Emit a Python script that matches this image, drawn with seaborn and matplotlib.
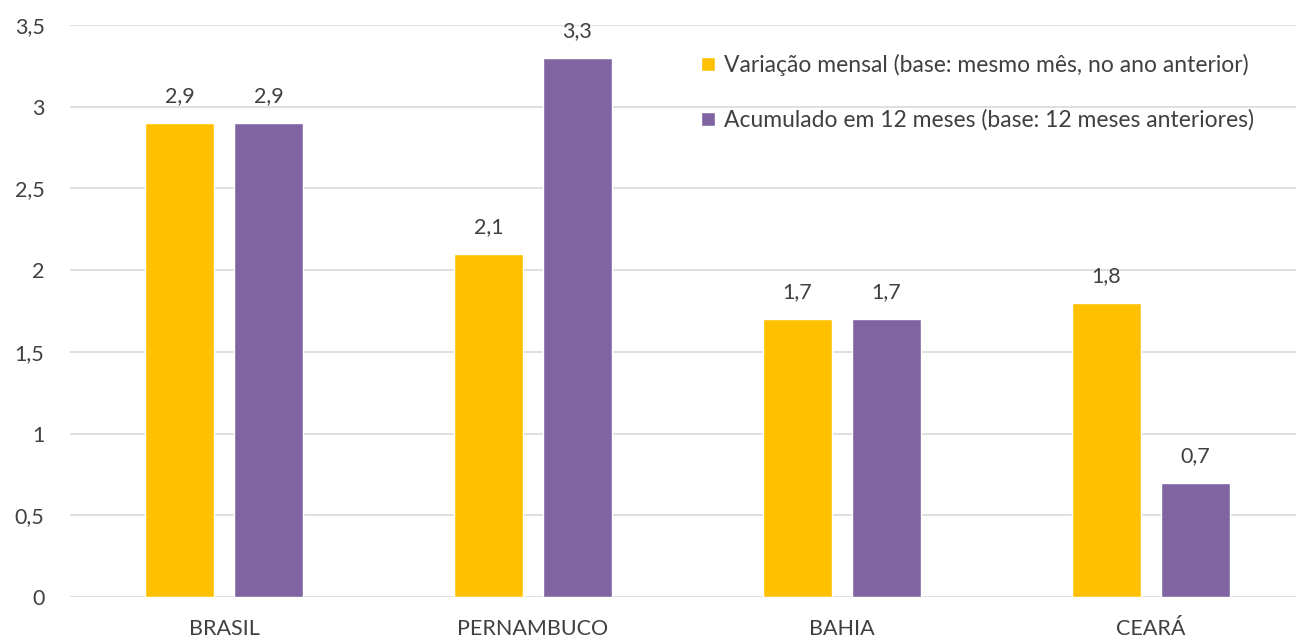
import pandas as pd
import seaborn as sns
import matplotlib.pyplot as plt

# Dados do gráfico
estados = ["BRASIL", "PERNAMBUCO", "BAHIA", "CEARÁ"]
variacao_mensal = [2.9, 2.1, 1.7, 1.8]
acumulado_12m = [2.9, 3.3, 1.7, 0.7]
serie_mensal = "Variação mensal (base: mesmo mês, no ano anterior)"
serie_acum = "Acumulado em 12 meses (base: 12 meses anteriores)"
yticks = [0, 0.5, 1, 1.5, 2, 2.5, 3, 3.5]

df = pd.DataFrame({
    "estado": estados * 2,
    "valor": variacao_mensal + acumulado_12m,
    "serie": [serie_mensal] * len(estados) + [serie_acum] * len(estados),
})

sns.set_theme(style="white")
plt.rcParams["font.family"] = ["Lato", "DejaVu Sans"]

fig = plt.figure(figsize=(12.96, 6.41), dpi=100)
# area do grafico vai alem da borda direita (recortado no original)
ax = fig.add_axes([69.5 / 1296, 44 / 641, 1236 / 1296, 572 / 641])

sns.barplot(data=df, x="estado", y="valor", hue="serie",
            palette=["#FFC000", "#8064A2"], width=0.576, gap=0.225,
            saturation=1, ax=ax)

for cont in ax.containers:
    ax.bar_label(cont, labels=[f"{v:.1f}".replace(".", ",") for v in cont.datavalues],
                 padding=12, fontsize=15.5, color="#404040")

ax.set_ylim(0, 3.5)
ax.set_yticks(yticks)
ax.set_yticklabels([f"{t:g}".replace(".", ",") for t in yticks], fontsize=15.5, color="#404040")
ax.tick_params(axis="x", labelsize=15.5, labelcolor="#404040", pad=10)
ax.tick_params(axis="y", pad=18, length=0)
ax.yaxis.grid(True, color="#D9D9D9", linewidth=1.2)
ax.set_axisbelow(True)
for s in ax.spines.values():
    s.set_visible(False)
ax.set_xlabel("")
ax.set_ylabel("")
ax.set_xlim(-0.5, 3.5)

ax.legend(loc="upper left", bbox_to_anchor=(692 / 1296, 596 / 641),
          bbox_transform=fig.transFigure, frameon=False, fontsize=16.5,
          handlelength=0.6, handleheight=0.6, handletextpad=0.4,
          labelspacing=1.45, borderaxespad=0, labelcolor="#404040")

fig.savefig("out.png", dpi=100)
